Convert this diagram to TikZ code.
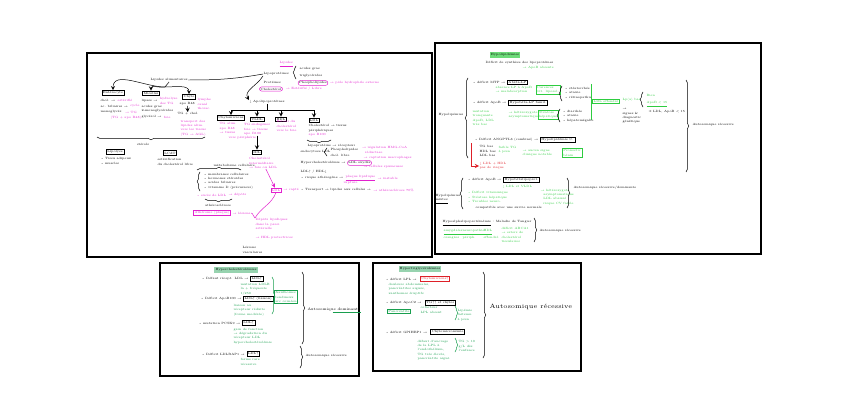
\documentclass[tikz,border=0pt]{standalone}
\usepackage{tikz}
\usetikzlibrary{decorations.pathreplacing,positioning}
\definecolor{mag}{RGB}{226,34,206}
\definecolor{grn}{RGB}{46,204,64}
\definecolor{grnd}{RGB}{24,158,78}
\definecolor{rd}{RGB}{222,32,40}
\newcommand{\flr}{\textrightarrow}
\newcommand{\haut}{\textuparrow}
\newcommand{\bas}{\textdownarrow}
\tikzset{
  txt/.style={font=\fontsize{2.2}{3.1}\selectfont, inner sep=0.2pt, align=left, anchor=west},
  mg/.style={txt, text=mag},
  gn/.style={txt, text=grn},
  gd/.style={txt, text=grnd},
  bx/.style={txt, draw, anchor=center, inner sep=0.8pt},
  bxm/.style={bx, draw=mag, text=mag},
  bxg/.style={bx, draw=grn, text=grn},
  bxd/.style={bx, draw=grnd, text=grnd},
  bxr/.style={bx, draw=rd, text=rd},
  cir/.style={txt, draw=mag, rounded corners=1.5pt, anchor=center, inner sep=0.7pt},
  hl/.style={txt, anchor=center, inner sep=0.8pt},
  brc/.style={decorate, decoration={brace, amplitude=2pt}},
  panel/.style={draw, line width=0.8pt}
}
\begin{document}
\begin{tikzpicture}[x=0.025cm, y=-0.025cm, line width=0.35pt, >=stealth]
  \useasboundingbox (0,0) rectangle (848,420);
  \draw[panel] (87,53) rectangle (432,257);
  \draw[panel] (435,43) rectangle (761,254);
  \draw[panel] (160,263) rectangle (359,376);
  \draw[panel] (373,263) rectangle (581,371);

  \node[mg] (aTitle) at (279,64) {\underline{Lipides}};
  \node[txt] (aLipo) at (263,74) {Lipoprotéines};
  \node[txt] (aAg) at (299,69) {acides gras};
  \node[txt] (aTg) at (299,76) {triglycérides};
  \draw[brc] (296,79) -- (296,66);
  \node[txt] (aProt) at (263,82) {Protéines};
  \node[cir] (aPhos) at (313,83) {Phospholipides};
  \node[mg, right=1pt of aPhos] (aPhosN) {\flr\ pôle hydrophile externe};
  \node[cir] (aChol) at (271,89) {Cholestérol};
  \node[mg, right=2pt of aChol] (aCholN) {\flr\ Estérifié / Libre};

  \node[txt] (aRoot) at (150,80) {Lipides alimentaires};
  \draw (aRoot.east) to[out=0,in=190] (aLipo.west);
  \coordinate (aFork) at (165,87);
  \draw (aRoot.south) -- (aFork);
  \node[bx] (aEnt) at (113,93) {Entérocyte};
  \node[bx] (aMic) at (151,93) {Micelles};
  \node[bx] (aChyl) at (189,97) {Chylo};
  \draw[->] (aFork) to[out=180,in=90] (aEnt);
  \draw[->] (aFork) to[out=190,in=90] (aMic);
  \draw[->] (aFork) to[out=0,in=90] (aChyl);

  \node[txt] (aEntA) at (100,100) {chol. \flr};
  \node[mg, right=1pt of aEntA] (aEntAm) {estérifié};
  \node[txt] (aEntB) at (100,106) {ac. biliaires \flr};
  \node[mg, right=1pt of aEntB] (aEntBm) {cycle};
  \node[txt] (aEntC) at (100,112) {monoglycér.};
  \node[mg, right=1pt of aEntC] (aEntCm) {\flr\ TG};
  \node[mg] (aEntD) at (110,118) {(TG + apo B48)};
  \node[txt] (aMicA) at (141,101) {lipase \flr};
  \node[mg, right=1pt of aMicA] (aMicAm) {hydrolyse\\ des TG};
  \node[txt] (aMicB) at (141,109) {acides gras\\ 2-monoglycérides};
  \node[txt] (aMicC) at (141,117) {glycérol \flr};
  \node[mg, right=1pt of aMicC] (aMicCm) {foie};
  \node[txt] (aChylA) at (179,104) {apo B48};
  \node[mg] (aChylAm) at (197,104) {lymphe\\ canal\\ thorac.};
  \node[txt, anchor=center] (aChylB) at (188,114) {TG + chol.};
  \draw[->] (aChylA) -- (aChylB);
  \node[mg] (aChylC) at (180,128) {transport des\\ lipides alim.\\ vers les tissus\\ (TG \flr\ AGL)};
  \draw[brc] (205,137) -- (97,137);
  \node[txt, anchor=center] (aSter) at (143,144) {stérols};
  \node[bx] (aLip) at (115,152) {Lipolyse};
  \node[txt] (aLipN) at (100,161) {\textbullet\ Tissu adipeux\\ \textbullet\ muscles};
  \node[bx] (aLcat) at (170,153) {LCAT};
  \node[txt] (aLcatN) at (157,162) {estérification\\ du cholestérol libre};

  \node[txt, anchor=center] (aApo) at (267,102) {\bas\ Apolipoprotéines};
  \draw[->] (aLipo.south west) to[out=240,in=120] (aApo.north west);
  \coordinate (aBar) at (267,110);
  \draw (aApo) -- (aBar);
  \node[bx] (aChy) at (231,118) {Chylomicrons};
  \node[bx] (aVldl) at (257,119) {VLDL};
  \node[bx] (aHdl) at (281,119) {HDL};
  \node[bx] (aLdl) at (314,120) {LDL};
  \draw[->] (aBar) -| (aChy);
  \draw[->] (aBar) -| (aVldl);
  \draw[->] (aBar) -| (aHdl);
  \draw[->] (aBar) -| (aLdl);
  \node[mg] (aChyN) at (219,128) {TG alim.\\ apo B48\\ \flr\ tissus};
  \node[mg] (aChyM) at (228,138) {vers périphérie};
  \node[mg, anchor=north] (aVldlN) at (257,123) {TG endogènes\\ foie \flr\ tissus\\ apo B100};
  \node[bx] (aIdl) at (257,152) {IDL};
  \draw[->] (aVldlN) -- (aIdl);
  \node[mg, anchor=north] (aIdlN) at (263,157) {Cholestérol\\ intermédiaire\\ \flr\ foie ou LDL};
  \node[mg] (aHdlN) at (276,126) {Retour du\\ cholestérol\\ vers le foie};
  \node[txt, anchor=north west] (aLdlN) at (308,124) {Cholestérol \flr\ tissus\\ périphériques};
  \node[mg] (aLdlNm) at (308,135) {apo B100};
  \draw[brc] (331,140) -- (307,140);
  \node[txt] (aRec) at (307,146) {Lipoprotéine \flr\ récepteur};
  \node[txt] (aEndo) at (300,152) {endocytose LDL};
  \draw[brc] (327,156) -- (327,148);
  \node[txt] (aEndoA) at (330,150) {Phospholipides};
  \node[txt] (aEndoB) at (330,155) {chol. libre};
  \node[mg, right=2pt of aEndoA] (aEndoM) {\flr\ régulation HMG-CoA\\ \ \ réductase};
  \node[txt] (aHyp) at (300,163) {Hypercholestérolémie \flr};
  \node[cir, right=1pt of aHyp] (aLdlC) {LDL oxydés};
  \node[mg] (aHypN1) at (363,158) {\flr\ captation macrophages};
  \node[mg] (aHypN2) at (363,167) {\flr\ cellules spumeuses};
  \node[txt] (aRat) at (300,172) {LDL\haut\ / HDL\bas};
  \node[txt] (aRisq) at (300,178) {\textbullet\ risque athérogène \flr};
  \node[mg, right=1pt of aRisq] (aRisqM) {\underline{plaque lipidique}};
  \node[mg, right=1pt of aRisqM] (aRisqN) {\flr\ instable};
  \node[mg] (aRisqR) at (343,183) {rupture};
  \node[bxm] (aLdlM) at (276,190) {LDL};
  \draw[mag,->] (aIdlN) -- (aLdlM);
  \node[mg, right=1pt of aLdlM] (aLdlMN) {\flr\ capté};
  \node[txt] (aTrans) at (300,190) {\textbullet\ Transport \flr\ lipides aux cellules \flr};
  \node[mg, right=1pt of aTrans] (aTransM) {\flr\ athérosclérose 70\%};

  \node[txt] (aCell) at (213,165) {métabolisme cellulaire};
  \draw[brc] (197,170) -- (241,170);
  \draw[brc] (200,191) -- (200,172);
  \node[txt] (aList) at (203,181) {\textbullet\ membranes cellulaires\\ \textbullet\ hormones stéroïdes\\ \textbullet\ acides biliaires\\ \textbullet\ vitamine D (précurseur)};
  \node[mg] (aMag1) at (196,195) {\textbullet\ excès de LDL};
  \node[mg, right=1pt of aMag1] (aMag2) {\flr\ dépôts};
  \draw[brc] (232,199) -- (205,199);
  \node[txt, anchor=center] (aAth) at (218,205) {athérosclérose};
  \node[bxm] (aAthB) at (212,213) {Athérome (plaque)};
  \node[mg, right=1pt of aAthB] (aAthN) {\flr\ lésions};
  \node[mg] (aDep) at (255,224) {Dépôts lipidiques\\ dans la paroi\\ artérielle};
  \draw[mag] (aAthN.east) to[out=0,in=150] (aDep.north west);
  \draw[mag] (aLdlM.south) to[out=250,in=60] (aDep.north west);
  \node[mg] (aHdlP) at (255,238) {\flr\ HDL protectrices};
  \node[txt] (aBot) at (242,250) {Lésions\\ vasculaires};

  \node[hl, fill=grn!70] (bTitle) at (505,55) {Hypolipidémies};
  \node[txt] (bSub) at (485,63) {Déficit de synthèse des lipoprotéines};
  \node[gn] (bSubN) at (522,68) {\flr\ ApoB absente};
  \node[txt] (bHypo) at (438,115) {Hypolipémies};
  \draw[brc] (468,158) -- (468,78);

  \node[txt] (bR1) at (472,82) {\textbullet\ déficit MTP \flr};
  \node[bx, right=1pt of bR1] (bR1b) {Abêta-LP};
  \node[gn] (bR1n) at (495,90) {absence LP à ApoB\\ \flr\ malabsorption};
  \node[bxg] (bR1g) at (548,90) {Carences\\ vit. liposol.};
  \draw[brc] (562,101) -- (562,86);
  \node[txt] (bR1l) at (564,93) {\textbullet\ stéatorrhée\\ \textbullet\ ataxie\\ \textbullet\ rétinopathie};

  \node[txt] (bR2) at (472,103) {\textbullet\ déficit ApoB \flr};
  \node[bx, right=1pt of bR2] (bR2b) {Hypobêta-LP famil.};
  \node[gn] (bR2n1) at (472,118) {mutation\\ tronquante\\ ApoB, LDL\\ très bas};
  \node[gn] (bR2n2) at (508,115) {\flr\ hétérozygote\\ asymptomatique};
  \node[bxg] (bR2g) at (548,115) {Stéatose\\ hépatique};
  \draw[brc] (560,122) -- (560,109);
  \node[txt] (bR2l) at (562,116) {\textbullet\ diarrhée\\ \textbullet\ ataxie\\ \textbullet\ hépatomégalie};

  \coordinate (bGrA) at (591,84);
  \coordinate (bGrB) at (591,120);
  \draw[grn] (bGrA) -- (bGrB);
  \node[bxg] (bBig) at (606,101) {LDL effondré};
  \node[gn] (bBigN) at (622,100) {Lp(a) bas};
  \draw[brc] (643,107) -- (643,92);
  \node[gn] (bBien) at (646,95) {Bien};
  \node[gn] (bApo) at (646,104) {\underline{ApoB < 15}};
  \node[txt] (bBigD) at (622,116) {\flr\\ signes \&\\ diagnostic\\ génétique};
  \node[txt] (bLim) at (648,112) {± LDL, ApoB < 15};
  \draw[brc] (686,80) -- (686,172);
  \node[txt] (bAR1) at (692,125) {Autosomique récessive};

  \node[txt] (bR3) at (474,140) {\textbullet\ Déficit ANGPTL3 (combiné) \flr};
  \node[bx, right=1pt of bR3] (bR3b) {Hypolipidémie C.};
  \node[txt] (bR3a) at (479,151) {TG bas\\ HDL bas\\ LDL bas};
  \node[gn] (bR3c) at (498,150) {faible TG\\ à jeun};
  \node[gn] (bR3d) at (522,153) {\flr\ aucun signe\\ clinique notable};
  \node[bxg] (bR3g) at (572,153) {Pronostic\\ bénin};
  \coordinate (bRed) at (471,143);
  \node[txt, text=rd] (bR3r) at (479,166) {\bas\ LDL + HDL\\ pas de risque};
  \draw[rd, ->] (bRed) |- (bR3r.west);

  \node[txt, anchor=center] (bMix) at (448,199) {Hypolipémies\\ \underline{mixtes}};
  \draw[brc] (463,209) -- (463,178);
  \node[txt] (bR4) at (467,180) {\textbullet\ déficit ApoB \flr};
  \node[bx, right=1pt of bR4] (bR4b) {Hypobêtalipoprot.};
  \node[gn] (bR4g2) at (502,187) {\bas\ LDL et VLDL};
  \node[gn] (bR4g1) at (467,197) {\textbullet\ Déficit vitaminique\\ \textbullet\ Stéatose hépatique\\ \textbullet\ Troubles neuro.};
  \node[gn] (bR4g3) at (540,197) {\flr\ hétérozygote\\ \ \ asymptomatique\\ \ \ LDL abaissé\\ \ \ risque CV faible};
  \node[txt] (bR4c) at (475,208) {compatible avec une survie normale};
  \draw[brc] (567,178) -- (567,208);
  \node[txt] (bAR2) at (573,188) {Autosomique récessive/dominante};

  \node[txt] (bR5) at (442,223) {\underline{Hypoalphalipoprotéinémie} : Maladie de Tangier};
  \node[gn] (bR5a) at (443,234) {\underline{amygdales}\\ orangées};
  \node[gn] (bR5b) at (462,234) {\underline{neuropathie}\\ périph.};
  \node[gn] (bR5c) at (483,234) {\underline{HDL}\\ effondré};
  \node[gn] (bR5d) at (501,235) {déficit ABCA1\\ \flr\ esters de\\ cholestérol\\ tissulaires};
  \draw[brc] (534,218) -- (534,242);
  \node[txt] (bAR3) at (539,231) {Autosomique récessive};

  \node[hl, fill=grnd!45] (cTitle) at (236,270) {Hypercholestérolémies};
  \node[txt] (cR1) at (201,279) {\textbullet\ Défaut récept. LDL \flr};
  \node[bx, right=1pt of cR1] (cR1b) {LDL\haut};
  \node[gd] (cR1n) at (240,289) {mutation LDLR\\ la + fréquente\\ 1/250};
  \node[txt] (cR2) at (200,299) {\textbullet\ Déficit ApoB100 \flr};
  \node[bx, right=1pt of cR2] (cR2b) {LDL\haut\ (liaison)};
  \node[gd] (cR2n) at (233,310) {liaison au\\ récepteur réduite\\ (forme modérée)};
  \draw[brc, grnd] (272,277) -- (272,314);
  \node[bxd] (cG) at (286,297) {Xanthomes\\ tendineux\\ arc cornéen};
  \node[txt] (cR3) at (198,323) {\textbullet\ mutation PCSK9 \flr};
  \node[bx, right=1pt of cR3] (cR3b) {LDL\haut};
  \node[gd] (cR3n) at (233,336) {gain de fonction\\ \flr\ dégradation du\\ récepteur LDL\\ hypercholestérolémie};
  \draw[brc] (302,272) -- (302,344);
  \node[txt, font=\fontsize{2.6}{3.1}\selectfont] (cAD) at (307,310) {Autosomique dominante};
  \draw[grnd] ([xshift=-20]cAD.south east) -- (cAD.south east);
  \node[txt] (cR4) at (201,354) {\textbullet\ Déficit LDLRAP1 \flr};
  \node[bx, right=1pt of cR4] (cR4b) {LDL\haut};
  \node[gd] (cR4n) at (240,362) {forme rare\\ récessive};
  \draw[brc] (300,346) -- (300,368);
  \node[txt] (cAR) at (305,356) {Autosomique récessive};

  \node[hl, fill=grnd!45] (dTitle) at (420,269) {Hypertriglycéridémies};
  \node[txt] (dR1) at (385,279) {\textbullet\ déficit LPL \flr};
  \node[bxr, right=2pt of dR1] (dR1b) {Chylomicrons\haut};
  \node[gd] (dR1n) at (388,289) {douleurs abdominales,\\ pancréatites aiguës,\\ xanthomes éruptifs};
  \node[txt] (dR2) at (385,303) {\textbullet\ déficit ApoC2 \flr};
  \node[bx, right=2pt of dR2] (dR2b) {TG\haut\haut\ et chylos};
  \node[bxd] (dR2g) at (399,311) {Pancréatite};
  \node[gd] (dR2n) at (420,310) {cofacteur\\ LPL absent};
  \draw[brc, grnd] (455,306) -- (455,320);
  \node[gd] (dR2m) at (457,315) {Lipémie\\ laiteuse\\ à jeun};
  \node[txt] (dR3) at (385,332) {\textbullet\ déficit GPIHBP1 \flr};
  \node[bx, right=2pt of dR3] (dR3b) {Chylomicronémie};
  \node[gd] (dR3n) at (417,350) {défaut d'ancrage\\ de la LPL à\\ l'endothélium,\\ TG très élevés,\\ pancréatite aiguë};
  \draw[brc, grnd] (455,338) -- (455,352);
  \node[gd] (dR3m) at (458,346) {TG > 10\\ g/L dès\\ l'enfance};
  \draw[brc] (483,272) -- (483,358);
  \node[txt, font=\fontsize{4.4}{5}\selectfont] (dAR) at (489,307) {Autosomique récessive};
\end{tikzpicture}
\end{document}
